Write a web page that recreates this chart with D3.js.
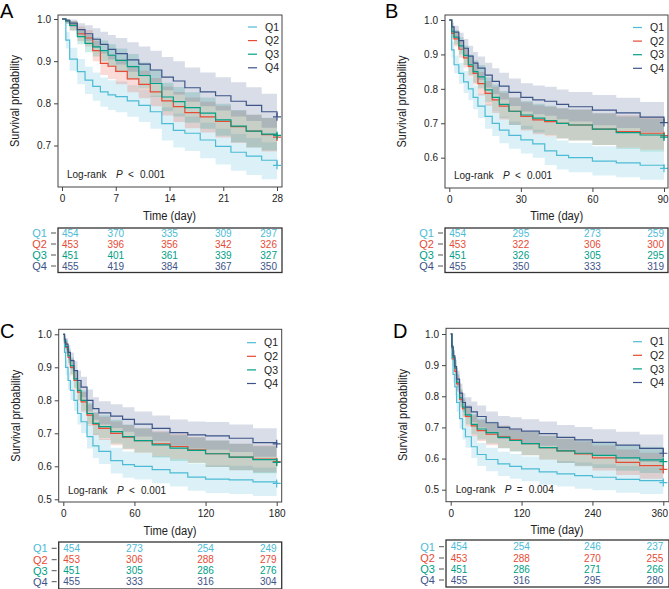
<!DOCTYPE html>
<html lang="en">
<head>
  <meta charset="utf-8">
  <title>Kaplan-Meier by quartile</title>
  <script src="https://d3js.org/d3.v7.min.js"></script>
  <style>
    body { margin: 0; background: #fff; }
    svg text { font-family: "Liberation Sans", Arial, sans-serif; }
  </style>
</head>
<body>
<div id="chart"></div>
<script>
"use strict"

var groups = ["Q1", "Q2", "Q3", "Q4"];
var colors = ["#4DBBD5", "#E64B35", "#00A087", "#3C5488"];

// ---- A: 28 days ----
var timeA = [0, 0.5, 1, 2, 3, 4, 5, 6, 7, 8.5, 10, 11.5, 13, 14.5, 16, 18, 20, 22, 24, 26, 28];
var survA_Q1 = [1.0, 0.95, 0.905, 0.875, 0.855, 0.84, 0.827, 0.82, 0.816, 0.806, 0.795, 0.78, 0.752, 0.736, 0.729, 0.713, 0.698, 0.684, 0.675, 0.665, 0.653];
var loA_Q1 = [1.0, 0.93, 0.877, 0.845, 0.822, 0.806, 0.792, 0.784, 0.779, 0.768, 0.756, 0.74, 0.712, 0.695, 0.687, 0.67, 0.655, 0.64, 0.63, 0.62, 0.612];
var hiA_Q1 = [1.0, 0.97, 0.932, 0.905, 0.887, 0.873, 0.861, 0.855, 0.852, 0.843, 0.833, 0.818, 0.791, 0.776, 0.769, 0.754, 0.74, 0.727, 0.718, 0.708, 0.696];
var survA_Q2 = [1.0, 0.995, 0.985, 0.965, 0.955, 0.925, 0.895, 0.888, 0.876, 0.858, 0.845, 0.827, 0.806, 0.792, 0.778, 0.768, 0.757, 0.745, 0.734, 0.726, 0.72];
var loA_Q2 = [1.0, 0.988, 0.973, 0.948, 0.935, 0.9, 0.867, 0.858, 0.845, 0.826, 0.812, 0.793, 0.771, 0.756, 0.741, 0.731, 0.719, 0.706, 0.695, 0.686, 0.68];
var hiA_Q2 = [1.0, 1.0, 0.995, 0.982, 0.974, 0.948, 0.922, 0.916, 0.905, 0.889, 0.877, 0.86, 0.84, 0.827, 0.814, 0.804, 0.794, 0.783, 0.773, 0.765, 0.76];
var survA_Q3 = [1.0, 0.995, 0.985, 0.958, 0.942, 0.934, 0.925, 0.914, 0.902, 0.887, 0.866, 0.847, 0.815, 0.804, 0.79, 0.777, 0.761, 0.746, 0.734, 0.727, 0.724];
var loA_Q3 = [1.0, 0.988, 0.973, 0.94, 0.921, 0.911, 0.9, 0.887, 0.874, 0.857, 0.835, 0.815, 0.781, 0.769, 0.754, 0.74, 0.723, 0.708, 0.695, 0.688, 0.684];
var hiA_Q3 = [1.0, 1.0, 0.995, 0.976, 0.962, 0.956, 0.949, 0.94, 0.93, 0.917, 0.897, 0.879, 0.849, 0.839, 0.826, 0.814, 0.799, 0.784, 0.773, 0.766, 0.764];
var survA_Q4 = [1.0, 0.997, 0.99, 0.975, 0.965, 0.952, 0.94, 0.928, 0.918, 0.903, 0.893, 0.879, 0.862, 0.853, 0.837, 0.827, 0.818, 0.805, 0.795, 0.78, 0.768];
var loA_Q4 = [1.0, 0.991, 0.981, 0.961, 0.948, 0.932, 0.918, 0.904, 0.892, 0.875, 0.864, 0.849, 0.831, 0.821, 0.804, 0.793, 0.783, 0.769, 0.758, 0.742, 0.729];
var hiA_Q4 = [1.0, 1.0, 0.999, 0.99, 0.985, 0.978, 0.97, 0.962, 0.955, 0.945, 0.935, 0.925, 0.91, 0.9, 0.885, 0.873, 0.862, 0.85, 0.838, 0.823, 0.81];
var riskTimesA = [0, 7, 14, 21, 28];
var riskA = [[454, 370, 335, 309, 297], [453, 396, 356, 342, 326], [451, 401, 361, 339, 327], [455, 419, 384, 367, 350]];

// ---- B: 90 days ----
var timeB = [0, 1, 2, 4, 6, 8, 10, 12, 15, 18, 21, 25, 30, 35, 40, 45, 50, 60, 70, 80, 90];
var survB_Q1 = [1.0, 0.913, 0.87, 0.845, 0.82, 0.8, 0.775, 0.75, 0.72, 0.7, 0.68, 0.665, 0.652, 0.64, 0.62, 0.607, 0.6, 0.59, 0.585, 0.578, 0.569];
var loB_Q1 = [1.0, 0.89, 0.845, 0.815, 0.788, 0.767, 0.741, 0.715, 0.684, 0.663, 0.642, 0.626, 0.612, 0.6, 0.579, 0.566, 0.558, 0.548, 0.543, 0.536, 0.528];
var hiB_Q1 = [1.0, 0.937, 0.897, 0.875, 0.852, 0.834, 0.81, 0.786, 0.757, 0.738, 0.719, 0.705, 0.693, 0.681, 0.662, 0.65, 0.643, 0.633, 0.628, 0.621, 0.613];
var survB_Q2 = [1.0, 0.961, 0.945, 0.915, 0.89, 0.865, 0.845, 0.815, 0.787, 0.768, 0.75, 0.735, 0.72, 0.71, 0.705, 0.7, 0.695, 0.683, 0.676, 0.671, 0.664];
var loB_Q2 = [1.0, 0.943, 0.924, 0.89, 0.862, 0.835, 0.813, 0.781, 0.751, 0.73, 0.711, 0.695, 0.679, 0.668, 0.662, 0.656, 0.65, 0.637, 0.629, 0.623, 0.616];
var hiB_Q2 = [1.0, 0.979, 0.966, 0.94, 0.918, 0.895, 0.877, 0.849, 0.823, 0.806, 0.789, 0.775, 0.761, 0.752, 0.748, 0.744, 0.74, 0.729, 0.723, 0.719, 0.712];
var survB_Q3 = [1.0, 0.966, 0.95, 0.925, 0.897, 0.87, 0.85, 0.835, 0.797, 0.775, 0.755, 0.735, 0.724, 0.715, 0.708, 0.7, 0.695, 0.683, 0.673, 0.666, 0.66];
var loB_Q3 = [1.0, 0.949, 0.929, 0.9, 0.869, 0.84, 0.818, 0.801, 0.761, 0.737, 0.716, 0.695, 0.683, 0.673, 0.665, 0.656, 0.65, 0.637, 0.626, 0.618, 0.612];
var hiB_Q3 = [1.0, 0.983, 0.971, 0.95, 0.925, 0.9, 0.882, 0.869, 0.833, 0.813, 0.794, 0.775, 0.765, 0.757, 0.751, 0.744, 0.74, 0.729, 0.72, 0.714, 0.708];
var survB_Q4 = [1.0, 0.98, 0.965, 0.94, 0.918, 0.895, 0.875, 0.86, 0.84, 0.822, 0.808, 0.79, 0.775, 0.768, 0.764, 0.755, 0.748, 0.738, 0.73, 0.718, 0.702];
var loB_Q4 = [1.0, 0.967, 0.947, 0.917, 0.891, 0.865, 0.843, 0.826, 0.804, 0.784, 0.769, 0.75, 0.734, 0.726, 0.722, 0.712, 0.705, 0.694, 0.686, 0.674, 0.658];
var hiB_Q4 = [1.0, 0.993, 0.983, 0.963, 0.945, 0.925, 0.907, 0.894, 0.876, 0.86, 0.847, 0.83, 0.816, 0.81, 0.806, 0.798, 0.791, 0.782, 0.774, 0.762, 0.746];
var riskTimesB = [0, 30, 60, 90];
var riskB = [[454, 295, 273, 259], [453, 322, 306, 300], [451, 326, 305, 295], [455, 350, 333, 319]];

// ---- C: 180 days ----
var timeC = [0, 1, 2, 4, 6, 9, 12, 15, 20, 25, 30, 40, 50, 60, 75, 90, 105, 120, 140, 160, 180];
var survC_Q1 = [1.0, 0.945, 0.9, 0.86, 0.83, 0.8, 0.76, 0.735, 0.69, 0.662, 0.645, 0.617, 0.605, 0.6, 0.59, 0.58, 0.567, 0.561, 0.559, 0.553, 0.548];
var loC_Q1 = [1.0, 0.925, 0.876, 0.833, 0.8, 0.768, 0.727, 0.7, 0.654, 0.625, 0.607, 0.578, 0.565, 0.56, 0.549, 0.539, 0.526, 0.519, 0.516, 0.51, 0.505];
var hiC_Q1 = [1.0, 0.965, 0.924, 0.887, 0.86, 0.832, 0.793, 0.77, 0.726, 0.699, 0.683, 0.656, 0.645, 0.64, 0.631, 0.621, 0.608, 0.603, 0.602, 0.596, 0.591];
var survC_Q2 = [1.0, 0.975, 0.96, 0.93, 0.9, 0.86, 0.825, 0.795, 0.755, 0.728, 0.715, 0.7, 0.688, 0.678, 0.668, 0.66, 0.65, 0.638, 0.628, 0.622, 0.614];
var loC_Q2 = [1.0, 0.96, 0.941, 0.908, 0.875, 0.833, 0.796, 0.765, 0.723, 0.694, 0.68, 0.664, 0.651, 0.641, 0.63, 0.621, 0.611, 0.598, 0.588, 0.581, 0.573];
var hiC_Q2 = [1.0, 0.99, 0.979, 0.952, 0.925, 0.887, 0.854, 0.825, 0.787, 0.762, 0.75, 0.736, 0.725, 0.715, 0.706, 0.699, 0.689, 0.678, 0.668, 0.663, 0.655];
var survC_Q3 = [1.0, 0.978, 0.963, 0.935, 0.905, 0.865, 0.83, 0.8, 0.76, 0.73, 0.72, 0.705, 0.69, 0.678, 0.665, 0.655, 0.648, 0.638, 0.628, 0.62, 0.612];
var loC_Q3 = [1.0, 0.963, 0.944, 0.913, 0.88, 0.838, 0.801, 0.77, 0.728, 0.696, 0.685, 0.669, 0.653, 0.641, 0.627, 0.616, 0.609, 0.598, 0.588, 0.579, 0.571];
var hiC_Q3 = [1.0, 0.993, 0.982, 0.957, 0.93, 0.892, 0.859, 0.83, 0.792, 0.764, 0.755, 0.741, 0.727, 0.715, 0.703, 0.694, 0.687, 0.678, 0.668, 0.661, 0.653];
var survC_Q4 = [1.0, 0.985, 0.97, 0.945, 0.92, 0.89, 0.86, 0.84, 0.8, 0.775, 0.762, 0.752, 0.742, 0.728, 0.715, 0.702, 0.695, 0.692, 0.685, 0.672, 0.668];
var loC_Q4 = [1.0, 0.973, 0.952, 0.923, 0.895, 0.862, 0.83, 0.809, 0.767, 0.741, 0.727, 0.716, 0.705, 0.69, 0.676, 0.662, 0.654, 0.65, 0.643, 0.629, 0.624];
var hiC_Q4 = [1.0, 0.997, 0.988, 0.967, 0.945, 0.918, 0.89, 0.871, 0.833, 0.809, 0.797, 0.788, 0.779, 0.766, 0.754, 0.742, 0.736, 0.734, 0.727, 0.715, 0.712];
var riskTimesC = [0, 60, 120, 180];
var riskC = [[454, 273, 254, 249], [453, 306, 288, 279], [451, 305, 286, 276], [455, 333, 316, 304]];

// ---- D: 360 days ----
var timeD = [0, 2, 4, 7, 10, 15, 20, 25, 35, 45, 60, 80, 100, 120, 150, 180, 210, 240, 280, 320, 360];
var survD_Q1 = [1.0, 0.92, 0.87, 0.83, 0.78, 0.728, 0.695, 0.67, 0.638, 0.613, 0.597, 0.583, 0.575, 0.567, 0.557, 0.551, 0.545, 0.54, 0.533, 0.529, 0.523];
var loD_Q1 = [1.0, 0.897, 0.844, 0.802, 0.75, 0.696, 0.661, 0.635, 0.602, 0.576, 0.559, 0.544, 0.535, 0.527, 0.516, 0.51, 0.503, 0.498, 0.49, 0.486, 0.48];
var hiD_Q1 = [1.0, 0.943, 0.896, 0.858, 0.81, 0.76, 0.729, 0.705, 0.674, 0.65, 0.635, 0.622, 0.615, 0.607, 0.598, 0.592, 0.587, 0.582, 0.576, 0.572, 0.566];
var survD_Q2 = [1.0, 0.955, 0.92, 0.88, 0.84, 0.79, 0.76, 0.735, 0.705, 0.69, 0.678, 0.67, 0.66, 0.648, 0.635, 0.625, 0.615, 0.602, 0.588, 0.577, 0.565];
var loD_Q2 = [1.0, 0.935, 0.897, 0.855, 0.813, 0.761, 0.73, 0.704, 0.672, 0.656, 0.643, 0.634, 0.624, 0.611, 0.597, 0.586, 0.575, 0.562, 0.547, 0.535, 0.523];
var hiD_Q2 = [1.0, 0.975, 0.943, 0.905, 0.867, 0.819, 0.79, 0.766, 0.738, 0.724, 0.713, 0.706, 0.696, 0.685, 0.673, 0.664, 0.655, 0.642, 0.629, 0.619, 0.607];
var survD_Q3 = [1.0, 0.958, 0.925, 0.89, 0.845, 0.795, 0.765, 0.74, 0.71, 0.695, 0.683, 0.668, 0.658, 0.648, 0.635, 0.625, 0.617, 0.61, 0.602, 0.596, 0.59];
var loD_Q3 = [1.0, 0.938, 0.902, 0.865, 0.818, 0.766, 0.735, 0.709, 0.677, 0.661, 0.648, 0.632, 0.622, 0.611, 0.597, 0.586, 0.577, 0.57, 0.561, 0.554, 0.548];
var hiD_Q3 = [1.0, 0.978, 0.948, 0.915, 0.872, 0.824, 0.795, 0.771, 0.743, 0.729, 0.718, 0.704, 0.694, 0.685, 0.673, 0.664, 0.657, 0.65, 0.643, 0.638, 0.632];
var survD_Q4 = [1.0, 0.96, 0.93, 0.895, 0.855, 0.81, 0.78, 0.765, 0.75, 0.735, 0.715, 0.7, 0.695, 0.688, 0.68, 0.668, 0.66, 0.652, 0.643, 0.633, 0.617];
var loD_Q4 = [1.0, 0.947, 0.912, 0.872, 0.828, 0.781, 0.75, 0.733, 0.717, 0.7, 0.679, 0.663, 0.657, 0.65, 0.641, 0.628, 0.619, 0.61, 0.6, 0.589, 0.572];
var hiD_Q4 = [1.0, 0.973, 0.948, 0.918, 0.882, 0.84, 0.81, 0.797, 0.783, 0.77, 0.751, 0.737, 0.733, 0.726, 0.719, 0.708, 0.701, 0.694, 0.686, 0.677, 0.662];
var riskTimesD = [0, 120, 240, 360];
var riskD = [[454, 254, 246, 237], [453, 288, 270, 255], [451, 286, 271, 266], [455, 316, 295, 280]];

var pTexts = ["<", "<", "<", "="];
var pValues = ["0.001", "0.001", "0.001", "0.004"];

// panels: data + where they go on the page
var panels = [
  { letter: "A", times: timeA, surv: [survA_Q1, survA_Q2, survA_Q3, survA_Q4], lo: [loA_Q1, loA_Q2, loA_Q3, loA_Q4], hi: [hiA_Q1, hiA_Q2, hiA_Q3, hiA_Q4],
    riskTimes: riskTimesA, risk: riskA, xTicks: [0, 7, 14, 21, 28], yTicks: [0.7, 0.8, 0.9, 1.0],
    xr: [62, 277], yv: [1.0, 0.7], yr: [19, 145.5], box: [58, 15, 282, 187], tab: [58, 228, 282, 272.5], rowY: [233, 244, 255, 266],
    letterPos: [0, 18], ylabX: 15, logPos: [67, 177.5], legX: 248, legY: 27, xlabY: 220, lastDx: 0 },
  { letter: "B", times: timeB, surv: [survB_Q1, survB_Q2, survB_Q3, survB_Q4], lo: [loB_Q1, loB_Q2, loB_Q3, loB_Q4], hi: [hiB_Q1, hiB_Q2, hiB_Q3, hiB_Q4],
    riskTimes: riskTimesB, risk: riskB, xTicks: [0, 30, 60, 90], yTicks: [0.6, 0.7, 0.8, 0.9, 1.0],
    xr: [449.3, 664], yv: [1.0, 0.6], yr: [20, 157.7], box: [445, 15, 668, 188], tab: [445, 228, 668, 272.5], rowY: [233, 244, 255, 266],
    letterPos: [385, 18], ylabX: 402, logPos: [454, 178.5], legX: 633, legY: 27.5, xlabY: 220, lastDx: -1.5 },
  { letter: "C", times: timeC, surv: [survC_Q1, survC_Q2, survC_Q3, survC_Q4], lo: [loC_Q1, loC_Q2, loC_Q3, loC_Q4], hi: [hiC_Q1, hiC_Q2, hiC_Q3, hiC_Q4],
    riskTimes: riskTimesC, risk: riskC, xTicks: [0, 60, 120, 180], yTicks: [0.5, 0.6, 0.7, 0.8, 0.9, 1.0],
    xr: [63.3, 276.7], yv: [1.0, 0.5], yr: [334.3, 499.3], box: [58.7, 329.3, 281.7, 502], tab: [58.7, 542, 281.7, 589], rowY: [548.3, 559.7, 570.7, 581.7],
    letterPos: [0, 338], ylabX: 16, logPos: [68, 494], legX: 247, legY: 342.7, xlabY: 535, lastDx: 0 },
  { letter: "D", times: timeD, surv: [survD_Q1, survD_Q2, survD_Q3, survD_Q4], lo: [loD_Q1, loD_Q2, loD_Q3, loD_Q4], hi: [hiD_Q1, hiD_Q2, hiD_Q3, hiD_Q4],
    riskTimes: riskTimesD, risk: riskD, xTicks: [0, 120, 240, 360], yTicks: [0.5, 0.6, 0.7, 0.8, 0.9, 1.0],
    xr: [450.7, 663.3], yv: [1.0, 0.5], yr: [334, 489.7], box: [446, 328.3, 669, 501.7], tab: [446, 540, 669, 587], rowY: [546.7, 558, 569, 580],
    letterPos: [393, 338], ylabX: 403, logPos: [455.7, 492.5], legX: 633, legY: 341.7, xlabY: 534, lastDx: -4 }
];

var svg = d3.select("#chart").append("svg")
  .attr("width", 669)
  .attr("height", 589);

function desenhaPainel(p, k) {
  var g = svg.append("g");
  var x = d3.scaleLinear().domain([p.xTicks[0], p.xTicks[p.xTicks.length - 1]]).range(p.xr);
  var y = d3.scaleLinear().domain(p.yv).range(p.yr);
  var b = p.box;

  // confidence bands
  groups.forEach(function (q, i) {
    var pts = p.times.map(function (t, j) { return { t: t, lo: p.lo[i][j], hi: p.hi[i][j] }; });
    g.append("path")
      .datum(pts)
      .attr("fill", colors[i])
      .attr("fill-opacity", 0.2)
      .attr("d", d3.area().curve(d3.curveStepAfter)
        .x(function (d) { return x(d.t); })
        .y0(function (d) { return y(d.lo); })
        .y1(function (d) { return y(d.hi); }));
  });

  // survival curves + censor mark at the end
  groups.forEach(function (q, i) {
    var pts = p.times.map(function (t, j) { return { t: t, s: p.surv[i][j] }; });
    g.append("path")
      .datum(pts)
      .attr("fill", "none")
      .attr("stroke", colors[i])
      .attr("stroke-width", 1.2)
      .attr("d", d3.line().curve(d3.curveStepAfter)
        .x(function (d) { return x(d.t); })
        .y(function (d) { return y(d.s); }));
    var last = pts[pts.length - 1];
    g.append("path")
      .attr("transform", "translate(" + x(last.t) + "," + y(last.s) + ")")
      .attr("d", "M-4,0H4M0,-4V4")
      .attr("stroke", colors[i])
      .attr("stroke-width", 1.2);
  });

  // frame
  g.append("rect")
    .attr("x", b[0]).attr("y", b[1])
    .attr("width", b[2] - b[0]).attr("height", b[3] - b[1])
    .attr("fill", "none").attr("stroke", "#444").attr("stroke-width", 1);

  // axes (ticks outside frame)
  var xa = g.append("g").attr("transform", "translate(0," + b[3] + ")")
    .call(d3.axisBottom(x).tickValues(p.xTicks).tickSize(4).tickPadding(4).tickFormat(d3.format("d")));
  var ya = g.append("g").attr("transform", "translate(" + b[0] + ",0)")
    .call(d3.axisLeft(y).tickValues(p.yTicks).tickSize(4).tickPadding(3).tickFormat(d3.format(".1f")));
  [xa, ya].forEach(function (a) {
    a.select(".domain").remove();
    a.selectAll("line").attr("stroke", "#444");
    a.selectAll("text").attr("fill", "#222").style("font-size", "10px");
  });
  // last x label sits against the page edge in the right-hand panels
  xa.selectAll(".tick text").filter(function (d, j) { return j === p.xTicks.length - 1; })
    .attr("dx", p.lastDx);

  // titles
  g.append("text")
    .attr("x", (p.xr[0] + p.xr[1]) / 2).attr("y", p.xlabY)
    .attr("text-anchor", "middle").style("font-size", "12px").attr("fill", "#222")
    .attr("textLength", 53).attr("lengthAdjust", "spacingAndGlyphs")
    .text("Time (day)");
  g.append("text")
    .attr("transform", "translate(" + p.ylabX + "," + (b[1] + b[3]) / 2 + ") rotate(-90)")
    .attr("dy", "0.35em")
    .attr("text-anchor", "middle").style("font-size", "12px").attr("fill", "#222")
    .attr("textLength", 92).attr("lengthAdjust", "spacingAndGlyphs")
    .text("Survival probability");
  g.append("text")
    .attr("x", p.letterPos[0]).attr("y", p.letterPos[1])
    .style("font-size", "20px").attr("fill", "#000")
    .text(p.letter);

  // log-rank
  var lr = g.append("g").attr("transform", "translate(" + p.logPos[0] + "," + p.logPos[1] + ")")
    .style("font-size", "10px").attr("fill", "#222");
  lr.append("text").attr("x", 0).text("Log-rank");
  lr.append("text").attr("x", 49).style("font-style", "italic").text("P");
  lr.append("text").attr("x", 61).text(pTexts[k]);
  lr.append("text").attr("x", 73).text(pValues[k]);

  // legend
  groups.forEach(function (q, i) {
    var ly = p.legY + i * 13.6;
    g.append("line")
      .attr("x1", p.legX).attr("x2", p.legX + 9)
      .attr("y1", ly).attr("y2", ly)
      .attr("stroke", colors[i]).attr("stroke-width", 1.2);
    g.append("text")
      .attr("x", p.legX + 17).attr("y", ly).attr("dy", "0.35em")
      .style("font-size", "10.5px").attr("fill", "#222")
      .text(q);
  });

  // number at risk table
  var t = p.tab;
  g.append("rect")
    .attr("x", t[0]).attr("y", t[1])
    .attr("width", t[2] - t[0]).attr("height", t[3] - t[1])
    .attr("fill", "none").attr("stroke", "#333").attr("stroke-width", 1.3);
  var n = p.riskTimes.length;
  groups.forEach(function (q, i) {
    var ry = p.rowY[i];
    g.append("line")
      .attr("x1", t[0] - 7).attr("x2", t[0] - 2)
      .attr("y1", ry).attr("y2", ry)
      .attr("stroke", "#555").attr("stroke-width", 1);
    g.append("text")
      .attr("x", t[0] - 11).attr("y", ry).attr("dy", "0.36em")
      .attr("text-anchor", "end").style("font-size", "11px")
      .attr("fill", colors[i])
      .text(q);
    g.selectAll(null)
      .data(p.risk[i])
      .enter()
      .append("text")
        .attr("x", function (d, j) { return x(p.riskTimes[j]); })
        .attr("y", ry).attr("dy", "0.36em")
        .attr("text-anchor", function (d, j) { return j === 0 ? "start" : (j === n - 1 ? "end" : "middle"); })
        .style("font-size", "10px")
        .attr("fill", colors[i])
        .text(function (d) { return d; });
  });
}

panels.forEach(desenhaPainel);
</script>
</body>
</html>
